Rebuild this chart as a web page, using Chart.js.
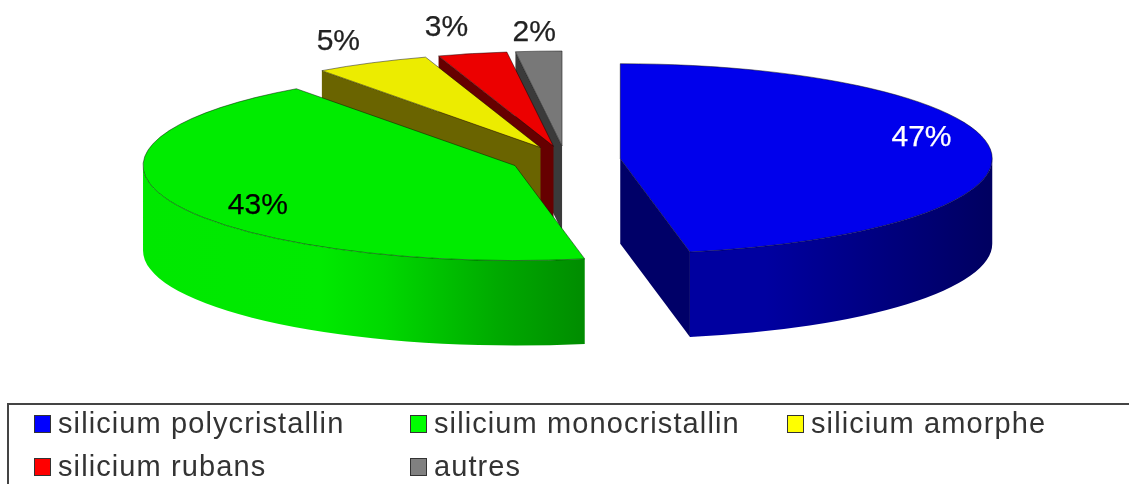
<!DOCTYPE html>
<html>
<head>
<meta charset="utf-8">
<title>silicium</title>
<script src="https://cdn.jsdelivr.net/npm/chart.js@4/dist/chart.umd.js"></script>
<style>
  html, body { margin: 0; padding: 0; background: #fff; overflow: hidden; }
  #wrap { position: relative; width: 1129px; height: 484px; }
  #myChart { position: absolute; left: 0; top: 0; filter: blur(0.5px); }
  #legend {
    position: absolute; left: 7px; top: 403px; width: 1122px; height: 81px; box-sizing: border-box;
    border-left: 2px solid #444; border-top: 2px solid #444;
    filter: blur(0.5px);
    font-family: "Liberation Sans", sans-serif; font-size: 29px; letter-spacing: 1.1px; color: #333;
  }
  #legend div { position: absolute; white-space: nowrap; line-height: 30px; }
  #legend i { display: inline-block; width: 15px; height: 16px; border: 1px solid #333; margin-right: 7px; vertical-align: 0; }
</style>
</head>
<body>
<div id="wrap">
  <canvas id="myChart" width="1129" height="484"></canvas>
  <div id="legend"></div>
</div>
<script>
var categories = ["silicium polycristallin", "silicium monocristallin", "silicium amorphe", "silicium rubans", "autres"];
var shares = [47, 43, 5, 3, 2];
var topColors = ["#0000ec", "#00ec00", "#ecec00", "#ec0000", "#787878"];
var legendColors = ["#0000ff", "#00ff00", "#ffff00", "#ff0000", "#808080"];
var faceColors = ["#000068", "#008800", "#6a6400", "#660000", "#3a3a3a"];
var labelColors = ["#ffffff", "#000000", "#222222", "#222222", "#222222"];

// 3D look
var tilt = 95 / 372;
var depth = 85;
var explode = 55;
// label spot per slice: distance from apex (1 = rim), angle shift from the slice middle
var labelRadius = [0.84, 0.81, 1.24, 1.28, 1.19];
var labelShift = [-10, -8, 1, -0.4, 0];
// outer wall gradient, going round with the angle
var wallStops = {
  0: [[0, "#000060"], [0.75, "#0000a0"], [1, "#0000a0"]],
  1: [[0, "#008c00"], [0.2, "#00aa00"], [0.45, "#00d800"], [0.6, "#00ea00"], [1, "#00e800"]]
};

function drawFace(ctx, cx, cy, rx, ry, a, color) {
  ctx.beginPath();
  ctx.moveTo(cx, cy);
  ctx.lineTo(cx + rx * Math.cos(a), cy + ry * Math.sin(a));
  ctx.lineTo(cx + rx * Math.cos(a), cy + ry * Math.sin(a) + depth);
  ctx.lineTo(cx, cy + depth);
  ctx.closePath();
  ctx.fillStyle = color;
  ctx.fill();
}

function drawWall(ctx, cx, cy, rx, ry, a0, a1, stops) {
  var grad = ctx.createLinearGradient(cx + rx * Math.cos(a0), 0, cx + rx * Math.cos(a1), 0);
  stops.forEach(function(s) { grad.addColorStop(s[0], s[1]); });
  ctx.beginPath();
  ctx.ellipse(cx, cy, rx, ry, 0, a0, a1);
  ctx.ellipse(cx, cy + depth, rx, ry, 0, a1, a0, true);
  ctx.closePath();
  ctx.fillStyle = grad;
  ctx.fill();
}

var pie3d = {
  id: "pie3d",
  beforeDatasetDraw: function(chart, args) {
    var ctx = chart.ctx;
    var arcs = args.meta.data;
    var spots = [];

    ctx.save();
    // back slices first
    for (var i = arcs.length - 1; i >= 0; i--) {
      var el = arcs[i];
      var mid = (el.startAngle + el.endAngle) / 2;
      var rx = el.outerRadius;
      var ry = rx * tilt;
      var cx = el.x + Math.cos(mid) * explode;
      var cy = el.y + Math.sin(mid) * explode * tilt;

      // cut faces, only those turned to the viewer
      if (Math.cos(el.startAngle) < -0.001 && Math.sin(el.startAngle) < 0) {
        drawFace(ctx, cx, cy, rx, ry, el.startAngle, faceColors[i]);
      }
      if (Math.cos(el.endAngle) > 0 || Math.sin(el.endAngle) > 0 && Math.cos(el.endAngle) > -0.001) {
        drawFace(ctx, cx, cy, rx, ry, el.endAngle, faceColors[i]);
      }

      // outer wall is seen only on the lower half of the ellipse
      var w0 = Math.max(el.startAngle, 0);
      var w1 = Math.min(el.endAngle, Math.PI);
      if (w1 > w0) {
        drawWall(ctx, cx, cy, rx, ry, w0, w1, wallStops[i]);
      }

      // top
      ctx.beginPath();
      ctx.moveTo(cx, cy);
      ctx.ellipse(cx, cy, rx, ry, 0, el.startAngle, el.endAngle);
      ctx.closePath();
      ctx.fillStyle = el.options.backgroundColor;
      ctx.fill();
      ctx.strokeStyle = "rgba(0,0,0,0.45)";
      ctx.lineWidth = 1;
      ctx.stroke();

      var la = mid + labelShift[i] * Math.PI / 180;
      spots[i] = [cx + rx * labelRadius[i] * Math.cos(la), cy + ry * labelRadius[i] * Math.sin(la)];
    }

    ctx.font = "30px 'Liberation Sans', sans-serif";
    ctx.textAlign = "center";
    ctx.textBaseline = "middle";
    ctx.lineWidth = 0.25;
    shares.forEach(function(v, n) {
      ctx.fillStyle = labelColors[n];
      ctx.strokeStyle = labelColors[n];
      ctx.fillText(v + "%", spots[n][0], spots[n][1]);
      ctx.strokeText(v + "%", spots[n][0], spots[n][1]);
    });
    ctx.restore();
    return false; // slices are done, skip the flat ones
  }
};

var chart = new Chart(document.getElementById("myChart").getContext("2d"), {
  type: "pie",
  data: {
    labels: categories,
    datasets: [{ data: shares, backgroundColor: topColors, borderWidth: 0 }]
  },
  options: {
    responsive: false,
    animation: false,
    radius: 372,
    layout: { padding: { left: 2, top: 0, right: 0, bottom: 164 } },
    plugins: { legend: { display: false }, tooltip: { enabled: false } }
  },
  plugins: [pie3d]
});

// html legend, 3 columns
var legendEl = document.getElementById("legend");
var colLeft = [25, 401, 778];
var rowTop = [3, 46];
categories.forEach(function(name, i) {
  var item = document.createElement("div");
  item.style.left = colLeft[i % 3] + "px";
  item.style.top = rowTop[Math.floor(i / 3)] + "px";
  var box = document.createElement("i");
  box.style.background = legendColors[i];
  item.appendChild(box);
  item.appendChild(document.createTextNode(name));
  legendEl.appendChild(item);
});
</script>
</body>
</html>
